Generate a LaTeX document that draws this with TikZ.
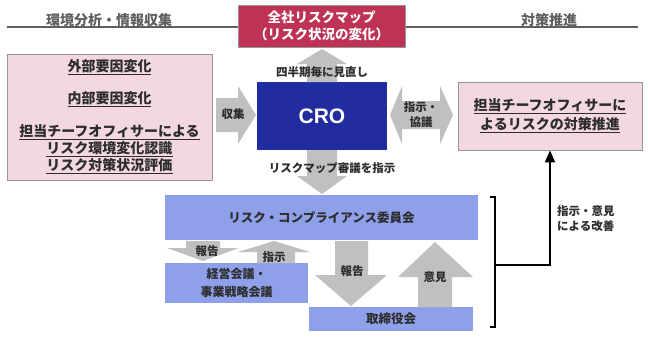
\documentclass[tikz,border=0pt]{standalone}
\usepackage{fontspec}
\setmainfont{Noto Sans CJK JP}
\newfontfamily\crofont{Liberation Sans}
\usetikzlibrary{positioning,arrows.meta,calc}
\usepackage{xcolor}
\definecolor{mapred}{RGB}{190,50,85}
\definecolor{pinkbg}{RGB}{243,216,226}
\definecolor{boxgray}{RGB}{150,150,150}
\definecolor{croblue}{RGB}{32,44,160}
\definecolor{lightblue}{RGB}{143,160,234}
\definecolor{arrgray}{RGB}{192,192,192}
\definecolor{txtgray}{RGB}{45,45,45}
\definecolor{hdrgray}{RGB}{95,95,95}

\begin{document}
\begin{tikzpicture}[x=1pt,y=-1pt,
  every node/.style={inner sep=0pt,text=txtgray},
  bigtxt/.style={font=\fontsize{14}{17}\selectfont\bfseries},
  smalltxt/.style={font=\fontsize{11.5}{15}\selectfont\bfseries},
  pinkbox/.style={draw=boxgray,fill=pinkbg,line width=0.8pt,align=center,bigtxt},
  bluebox/.style={fill=lightblue,align=center},
  garrow/.style={fill=arrgray}]
\useasboundingbox (0,0) rectangle (648,338);
\draw[hdrgray,line width=1.2pt] (7,27) -- (638,27);
\node[bigtxt,text=hdrgray] (hdrenv) at (109,20) {環境分析・情報収集};
\node[bigtxt,text=hdrgray] (hdrplan) at (549,20) {対策推進};
\node[fill=mapred,draw=boxgray,line width=0.6pt,minimum width=167,minimum height=42,align=center,text=white,font=\fontsize{13.5}{17}\selectfont\bfseries] (riskmap) at (321.5,26) {全社リスクマップ\\（リスク状況の変化）};
\node[pinkbox,minimum width=205,minimum height=126] (factors) at (109.5,117) {\underline{外部要因変化}\\[15pt]\underline{内部要因変化}\\[16pt]\underline{担当チーフオフィサーによる}\\\underline{リスク環境変化認識}\\\underline{リスク対策状況評価}};
\node[fill=croblue,minimum width=130,minimum height=68,text=white,font=\crofont\fontsize{21}{24}\selectfont\bfseries] (cro) at (322,116) {CRO};
\node[pinkbox,minimum width=184,minimum height=68] (plan) at (550,116) {\underline{担当チーフオフィサーに}\\[2pt]\underline{よるリスクの対策推進}};
\node[bluebox,minimum width=313,minimum height=45,font=\fontsize{12.5}{15}\selectfont\bfseries] (committee) at (321.5,217.5) {リスク・コンプライアンス委員会};
\node[bluebox,minimum width=143,minimum height=40,font=\fontsize{12}{18}\selectfont\bfseries] (mgmt) at (236.5,283) {経営会議・\\事業戦略会議};
\node[bluebox,minimum width=164,minimum height=24,font=\fontsize{12.5}{15}\selectfont\bfseries] (board) at (391,319) {取締役会};
\fill[garrow] (216,98) -- (238,98) -- (238,86) -- (256,115) -- (238,144) -- (238,132) -- (216,132) -- cycle;
\node[smalltxt] (lblcollect) at (233,114) {収集};
\fill[garrow] (307,82) -- (307,64) -- (297,64) -- (322,49) -- (347,64) -- (337,64) -- (337,82) -- cycle;
\node[smalltxt] (lblreview) at (322,72) {四半期毎に見直し};
\fill[garrow] (307,150) -- (307,176) -- (297,176) -- (322,194) -- (347,176) -- (337,176) -- (337,150) -- cycle;
\node[smalltxt] (lblorder) at (332,168) {リスクマップ審議を指示};
\fill[garrow] (390,115) -- (402,86) -- (402,101) -- (440,101) -- (440,86) -- (453,115) -- (440,144) -- (440,129) -- (402,129) -- (402,144) -- cycle;
\node[smalltxt,align=center] (lbldiscuss) at (421,115) {指示・\\協議};
\fill[garrow] (186,241) -- (186,248) -- (167,248) -- (203,261) -- (239,248) -- (220,248) -- (220,241) -- cycle;
\node[smalltxt] (lblrep1) at (207,251) {報告};
\fill[garrow] (257,263) -- (257,252) -- (238,252) -- (274,241) -- (310,252) -- (295,252) -- (295,263) -- cycle;
\node[smalltxt] (lblinst) at (274,257) {指示};
\fill[garrow] (335,241) -- (335,275) -- (315,275) -- (351,306) -- (387,275) -- (368,275) -- (368,241) -- cycle;
\node[smalltxt] (lblrep2) at (352,271) {報告};
\fill[garrow] (418,307) -- (418,277) -- (398,277) -- (435,242) -- (473,277) -- (452,277) -- (452,307) -- cycle;
\node[smalltxt] (lblopin) at (435,277) {意見};
\draw[black,line width=1.3pt] (490,197) -- (495,197) -- (495,327) -- (490,327);
\coordinate (brk) at (495,265);
\draw[black,line width=2pt,-{Triangle[length=12pt,width=10pt]}] (brk) -| (plan.south);
\node[smalltxt,align=left,anchor=west] (lblimprove) at (557,219) {指示・意見\\による改善};
\end{tikzpicture}
\end{document}
